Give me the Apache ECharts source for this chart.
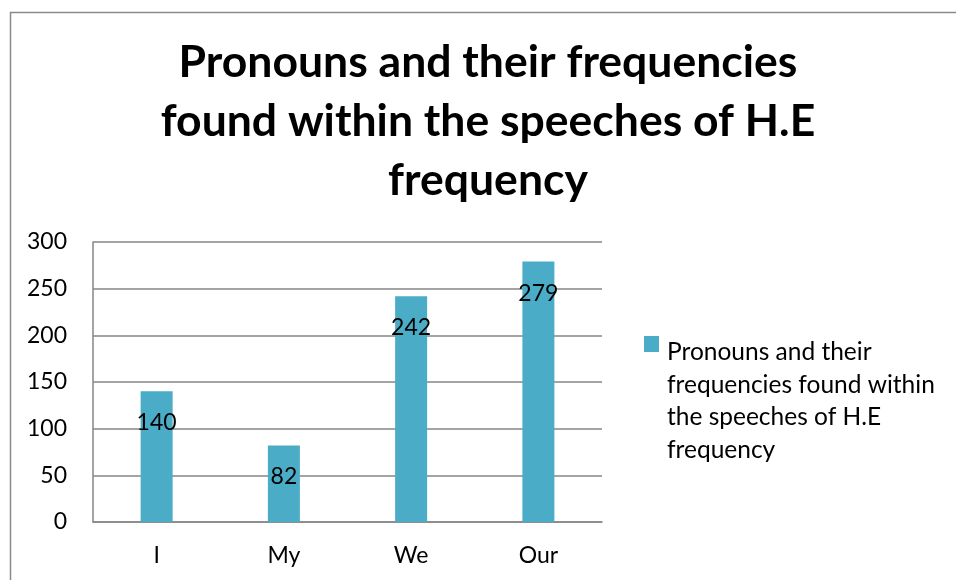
<!DOCTYPE html>
<html>
<head>
<meta charset="utf-8">
<script src="https://cdn.jsdelivr.net/npm/echarts@6/dist/echarts.min.js"></script>
<style>html,body{margin:0;padding:0;background:#fff}#c{width:956px;height:580px}</style>
</head>
<body>
<div id="c"></div>
<script>
const categories = ['I', 'My', 'We', 'Our'];
const values = [140, 82, 242, 279];
const seriesName = 'Pronouns and their frequencies found within the speeches of H.E frequency';
const titleText = 'Pronouns and their frequencies\nfound within the speeches of H.E\nfrequency';
const legendText = 'Pronouns and their\nfrequencies found within\nthe speeches of H.E\nfrequency';

const FONT = 'Lato';
const chart = echarts.init(document.getElementById('c'), null, {renderer: 'canvas'});
chart.setOption({
  animation: false,
  backgroundColor: '#fff',
  graphic: [{
    type: 'polyline',
    shape: {points: [[10.5, 600], [10.5, 12.5], [970, 12.5]]},
    style: {stroke: '#8a8a8a', lineWidth: 1.5, fill: null},
    silent: true
  }],
  title: {
    text: titleText,
    left: 488, top: 33, textAlign: 'center', padding: 0,
    textStyle: {fontFamily: FONT, fontWeight: 'bold', fontSize: 44.5, lineHeight: 59, color: '#000'}
  },
  legend: {
    left: 644, top: 336, padding: 0,
    itemWidth: 18, itemHeight: 130, itemGap: 0, itemStyle: {borderWidth: 0},
    icon: 'path://M0,8.5h15v15h-15zM17.99,129.99h0.01v0.01h-0.01z',
    symbolKeepAspect: false,
    formatter: () => legendText,
    textStyle: {fontFamily: FONT, fontSize: 24.5, lineHeight: 32.5, color: '#000'},
    data: [seriesName]
  },
  grid: {left: 93, right: 354, top: 242, bottom: 58},
  xAxis: {
    type: 'category', data: categories,
    axisLine: {lineStyle: {color: '#868686', width: 1.5}},
    axisTick: {show: false},
    axisLabel: {fontFamily: FONT, fontSize: 23, color: '#000', margin: 22}
  },
  yAxis: {
    type: 'value', min: 0, max: 300, interval: 50,
    axisLine: {show: true, lineStyle: {color: '#868686', width: 1.5}},
    axisTick: {show: false},
    splitLine: {lineStyle: {color: '#868686', width: 1.5}},
    axisLabel: {fontFamily: FONT, fontSize: 23, color: '#000', margin: 26}
  },
  series: [{
    name: seriesName, type: 'bar', data: values, barWidth: 32,
    itemStyle: {color: '#4aacc6'},
    label: {show: true, position: 'insideTop', distance: 20, fontFamily: FONT, fontSize: 23, color: '#000'}
  }]
});
</script>
</body>
</html>
